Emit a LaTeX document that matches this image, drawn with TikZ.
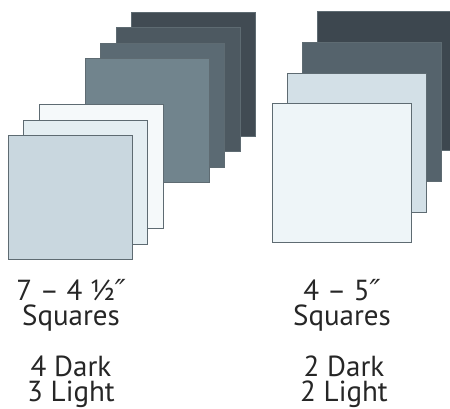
\documentclass[tikz,border=0pt]{standalone}
\usepackage{fontspec}
\setmainfont{PT Sans}
\newfontfamily\primefont{DejaVu Sans}
\usetikzlibrary{positioning}

\definecolor{dkA}{HTML}{414B53}
\definecolor{dkB}{HTML}{4D5961}
\definecolor{dkC}{HTML}{5B6A73}
\definecolor{dkD}{HTML}{71848D}
\definecolor{ltA}{HTML}{F5F9FA}
\definecolor{ltB}{HTML}{E4EEF2}
\definecolor{ltC}{HTML}{C9D7DF}
\definecolor{rdA}{HTML}{3D474F}
\definecolor{rdB}{HTML}{55636C}
\definecolor{rlA}{HTML}{D3E0E7}
\definecolor{rlB}{HTML}{EEF5F8}
\definecolor{edge}{HTML}{5E6B72}
\definecolor{ink}{HTML}{262626}
\newcommand{\inch}{{\primefont\itshape ″}}

\begin{document}
\begin{tikzpicture}[x=1pt,y=-1pt,
  small/.style={draw=edge,line width=0.8pt,minimum size=124pt,anchor=north west,inner sep=0pt},
  big/.style={draw=edge,line width=0.8pt,minimum size=139pt,anchor=north west,inner sep=0pt},
  lbl/.style={anchor=north,inner sep=0pt,align=center,text=ink,font=\fontsize{29}{25}\selectfont}]
\useasboundingbox (0,0) rectangle (450,408);
% 4 1/2 inch squares, back to front
\node[small,fill=dkA] (s1) at (131,12) {};
\node[small,fill=dkB] (s2) at (115.6,27.4) {};
\node[small,fill=dkC] (s3) at (100.2,42.8) {};
\node[small,fill=dkD] (s4) at (84.8,58.2) {};
\node[small,fill=ltA] (s5) at (38.6,104.4) {};
\node[small,fill=ltB] (s6) at (23.2,119.8) {};
\node[small,fill=ltC] (s7) at (7.8,135.2) {};

% 5 inch squares, back to front
\node[big,fill=rdA] (b1) at (317,11) {};
\node[big,fill=rdB] (b2) at (302,42) {};
\node[big,fill=rlA] (b3) at (287,73) {};
\node[big,fill=rlB] (b4) at (272,103) {};

% labels
\node[lbl] (size1) at (71,279) {7 – 4 ½\inch\\Squares};
\node[lbl] (count1) at (71,356) {4 Dark\\3 Light};
\node[lbl] (size2) at (342,279) {4 – 5\inch\\Squares};
\node[lbl] (count2) at (344,356) {2 Dark\\2 Light};
\end{tikzpicture}
\end{document}
